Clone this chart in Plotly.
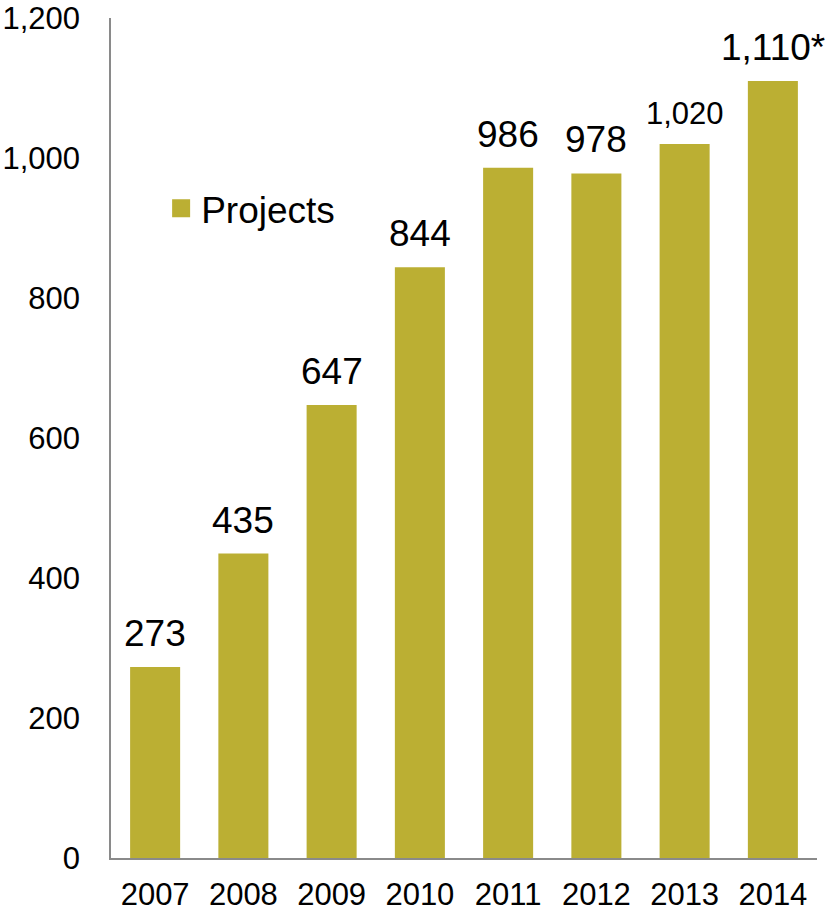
import plotly.graph_objects as go

# Projects per year
years = ["2007", "2008", "2009", "2010", "2011", "2012", "2013", "2014"]
projects = [273, 435, 647, 844, 986, 978, 1020, 1110]
value_labels = ["273", "435", "647", "844", "986", "978", "1,020", "1,110*"]
label_sizes = [37, 37, 37, 37, 37, 37, 31, 37]
y_ticks = [0, 200, 400, 600, 800, 1000, 1200]
y_tick_text = ["0", "200", "400", "600", "800", "1,000", "1,200"]

BAR_COLOR = "#BBAF33"
AXIS_COLOR = "#8A8A8A"
FONT = "Liberation Sans, Arial, sans-serif"

fig = go.Figure()
fig.add_trace(go.Bar(
    x=years,
    y=projects,
    name="Projects",
    marker=dict(color=BAR_COLOR, line=dict(width=0)),
    showlegend=False,
))

# legend key: a larger square swatch for the series
fig.add_trace(go.Scatter(
    x=[None], y=[None],
    mode="markers",
    name="Projects",
    marker=dict(symbol="square", size=16, color=BAR_COLOR,
                line=dict(color=BAR_COLOR, width=2)),
    showlegend=True,
    hoverinfo="skip",
))

# value labels above each bar (category index on the x axis)
for i, (val, txt, sz) in enumerate(zip(projects, value_labels, label_sizes)):
    fig.add_annotation(
        x=i, y=val, text=txt, showarrow=False,
        xanchor="center", yanchor="bottom", yshift=11,
        font=dict(family=FONT, size=sz, color="#000000"),
    )

fig.update_layout(
    width=826, height=911,
    margin=dict(l=111, r=9, t=18, b=53, autoexpand=False),
    paper_bgcolor="white", plot_bgcolor="white",
    bargap=0.433,
    font=dict(family=FONT, color="#000000"),
    legend=dict(
        x=0.071, y=0.773, xanchor="left", yanchor="middle",
        itemsizing="trace",
        font=dict(family=FONT, size=37, color="#000000"),
        bgcolor="rgba(0,0,0,0)",
    ),
    xaxis=dict(
        type="category",
        range=[-0.5, len(years) - 0.5],
        automargin=False,
        showline=True, linecolor=AXIS_COLOR, linewidth=1.5,
        showgrid=False, zeroline=False,
        ticks="outside", ticklen=8, tickcolor="rgba(0,0,0,0)",
        tickfont=dict(family=FONT, size=31, color="#000000"),
    ),
    yaxis=dict(
        range=[0, 1200],
        automargin=False,
        tickvals=y_ticks, ticktext=y_tick_text,
        showline=True, linecolor=AXIS_COLOR, linewidth=1.5,
        showgrid=False, zeroline=False,
        ticks="outside", ticklen=23, tickcolor="rgba(0,0,0,0)",
        tickfont=dict(family=FONT, size=31, color="#000000"),
    ),
)

fig.write_html("out.html")
